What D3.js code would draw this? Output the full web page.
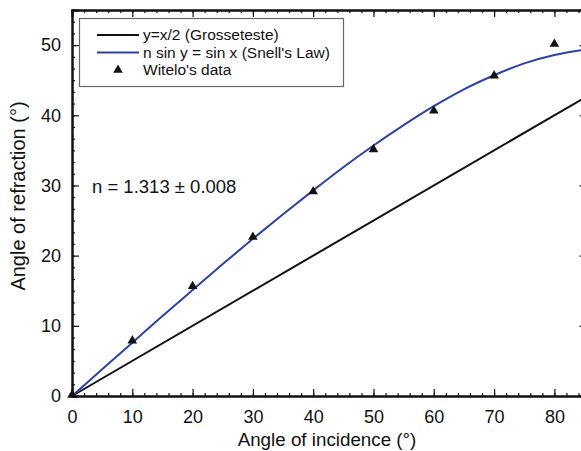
<!DOCTYPE html>
<html>
<head>
<meta charset="utf-8">
<script src="https://cdn.jsdelivr.net/npm/d3@7"></script>
<style>
  body { margin: 0; background: #fff; }
  text { font-family: "Liberation Sans", Arial, Helvetica, sans-serif; fill: #111; }
</style>
</head>
<body>
<div id="chart"></div>
<script>
/***** Data ***************************/
var witeloX = [0, 10, 20, 30, 40, 50, 60, 70, 80];
var witeloY = [0, 7.75, 15.5, 22.5, 29, 35, 40.5, 45.5, 50];

// Snell curve, read every 5 degrees
var snellX = [0, 5, 10, 15, 20, 25, 30, 35, 40, 45, 50, 55, 60, 65, 70, 75, 80, 85];
var snellY = [0, 3.8, 7.6, 11.4, 15.1, 18.8, 22.4, 25.9, 29.3, 32.6, 35.7, 38.6, 41.3, 43.7, 45.7, 47.4, 48.6, 49.35];

// Grosseteste line y = x/2
var grossX = [0, 85];
var grossY = [0, 42.5];

var xTicks = [0, 10, 20, 30, 40, 50, 60, 70, 80];
var yTicks = [0, 10, 20, 30, 40, 50];

var legendLabels = ["y=x/2 (Grosseteste)", "n sin y = sin x (Snell's Law)", "Witelo's data"];
var fitLabel = "n = 1.313 \u00b1 0.008";

/***** Set up ******/
var W = 581, H = 451;
var margin = {top: 10, left: 72, bottom: 55};
var blue = "#2b42a6";

var svg = d3.select("#chart")
            .append("svg")
            .attr("width", W)
            .attr("height", H);

var x = d3.scaleLinear()
          .domain([0, 85])
          .range([margin.left, margin.left + 85 * 6.03]);

var y = d3.scaleLinear()
          .domain([0, 55])
          .range([396, margin.top]);

var xMinor = d3.range(0, 86, 2);
var yMinor = d3.range(0, 55.01, 10 / 6);

/***** Axes (ticks point inward) ******/
svg.append("g")
   .attr("transform", "translate(0," + y(0) + ")")
   .call(d3.axisBottom(x).tickValues(xMinor).tickSize(-3).tickFormat(""));
svg.append("g")
   .attr("class", "xMajor")
   .attr("transform", "translate(0," + y(0) + ")")
   .call(d3.axisBottom(x).tickValues(xTicks).tickSize(-7).tickPadding(14));

svg.append("g")
   .attr("transform", "translate(0," + y(55) + ")")
   .call(d3.axisTop(x).tickValues(xMinor).tickSize(-3).tickFormat(""));
svg.append("g")
   .attr("transform", "translate(0," + y(55) + ")")
   .call(d3.axisTop(x).tickValues(xTicks).tickSize(-7).tickFormat(""));

svg.append("g")
   .attr("transform", "translate(" + x(0) + ",0)")
   .call(d3.axisLeft(y).tickValues(yMinor).tickSize(-3).tickFormat(""));
svg.append("g")
   .attr("class", "yMajor")
   .attr("transform", "translate(" + x(0) + ",0)")
   .call(d3.axisLeft(y).tickValues(yTicks).tickSize(-7).tickPadding(11));

svg.append("g")
   .attr("transform", "translate(" + x(85) + ",0)")
   .call(d3.axisRight(y).tickValues(yTicks).tickSize(-5).tickFormat(""));

svg.selectAll(".domain").attr("stroke", "#111").attr("stroke-width", 2);
svg.selectAll(".tick line").attr("stroke", "#111").attr("stroke-width", 1.2);
svg.selectAll(".xMajor .tick text, .yMajor .tick text")
   .style("font-size", "18px")
   .style("font-family", "\"Liberation Sans\", Arial, sans-serif")
   .attr("fill", "#111");

/***** Lines ******/
var line = d3.line()
             .x(function(d) { return x(d[0]); })
             .y(function(d) { return y(d[1]); });

var plot = svg.append("g");

plot.append("path")
    .datum(grossX.map(function(d, i) { return [d, grossY[i]]; }))
    .attr("fill", "none")
    .attr("stroke", "#111")
    .attr("stroke-width", 2)
    .attr("d", line);

plot.append("path")
    .datum(snellX.map(function(d, i) { return [d, snellY[i]]; }))
    .attr("fill", "none")
    .attr("stroke", blue)
    .attr("stroke-width", 2)
    .attr("d", line.curve(d3.curveMonotoneX));

plot.selectAll(".pt")
    .data(witeloX.map(function(d, i) { return [d, witeloY[i]]; }))
    .enter()
    .append("path")
    .attr("class", "pt")
    .attr("transform", function(d) { return "translate(" + x(d[0]) + "," + (y(d[1]) - 1) + ")"; })
    .attr("d", d3.symbol().type(d3.symbolTriangle).size(40))
    .attr("fill", "#111");

/***** Legend ******/
var leg = svg.append("g");
leg.append("rect")
   .attr("x", 79.5).attr("y", 18.5)
   .attr("width", 264).attr("height", 68)
   .attr("fill", "#fff")
   .attr("stroke", "#666")
   .attr("stroke-width", 1.2);

var rowY = [35, 52.5, 70];
leg.append("line").attr("x1", 97).attr("x2", 139).attr("y1", rowY[0]).attr("y2", rowY[0])
   .attr("stroke", "#111").attr("stroke-width", 2);
leg.append("line").attr("x1", 97).attr("x2", 139).attr("y1", rowY[1]).attr("y2", rowY[1])
   .attr("stroke", blue).attr("stroke-width", 2);
leg.append("path")
   .attr("transform", "translate(118," + rowY[2] + ")")
   .attr("d", d3.symbol().type(d3.symbolTriangle).size(40))
   .attr("fill", "#111");

leg.selectAll(".lt")
   .data(legendLabels)
   .enter()
   .append("text")
   .attr("x", 143)
   .attr("y", function(d, i) { return rowY[i]; })
   .attr("dy", "0.35em")
   .style("font-size", "15.5px")
   .text(function(d) { return d; });

/***** Annotation and titles ******/
svg.append("text")
   .attr("x", 92).attr("y", 193)
   .style("font-size", "18.5px")
   .text(fitLabel);

svg.append("text")
   .attr("x", 327).attr("y", 446)
   .attr("text-anchor", "middle")
   .style("font-size", "18.8px")
   .text("Angle of incidence (\u00b0)");

svg.append("text")
   .attr("transform", "translate(25,196) rotate(-90)")
   .attr("text-anchor", "middle")
   .style("font-size", "20px")
   .text("Angle of refraction (\u00b0)");
</script>
</body>
</html>
